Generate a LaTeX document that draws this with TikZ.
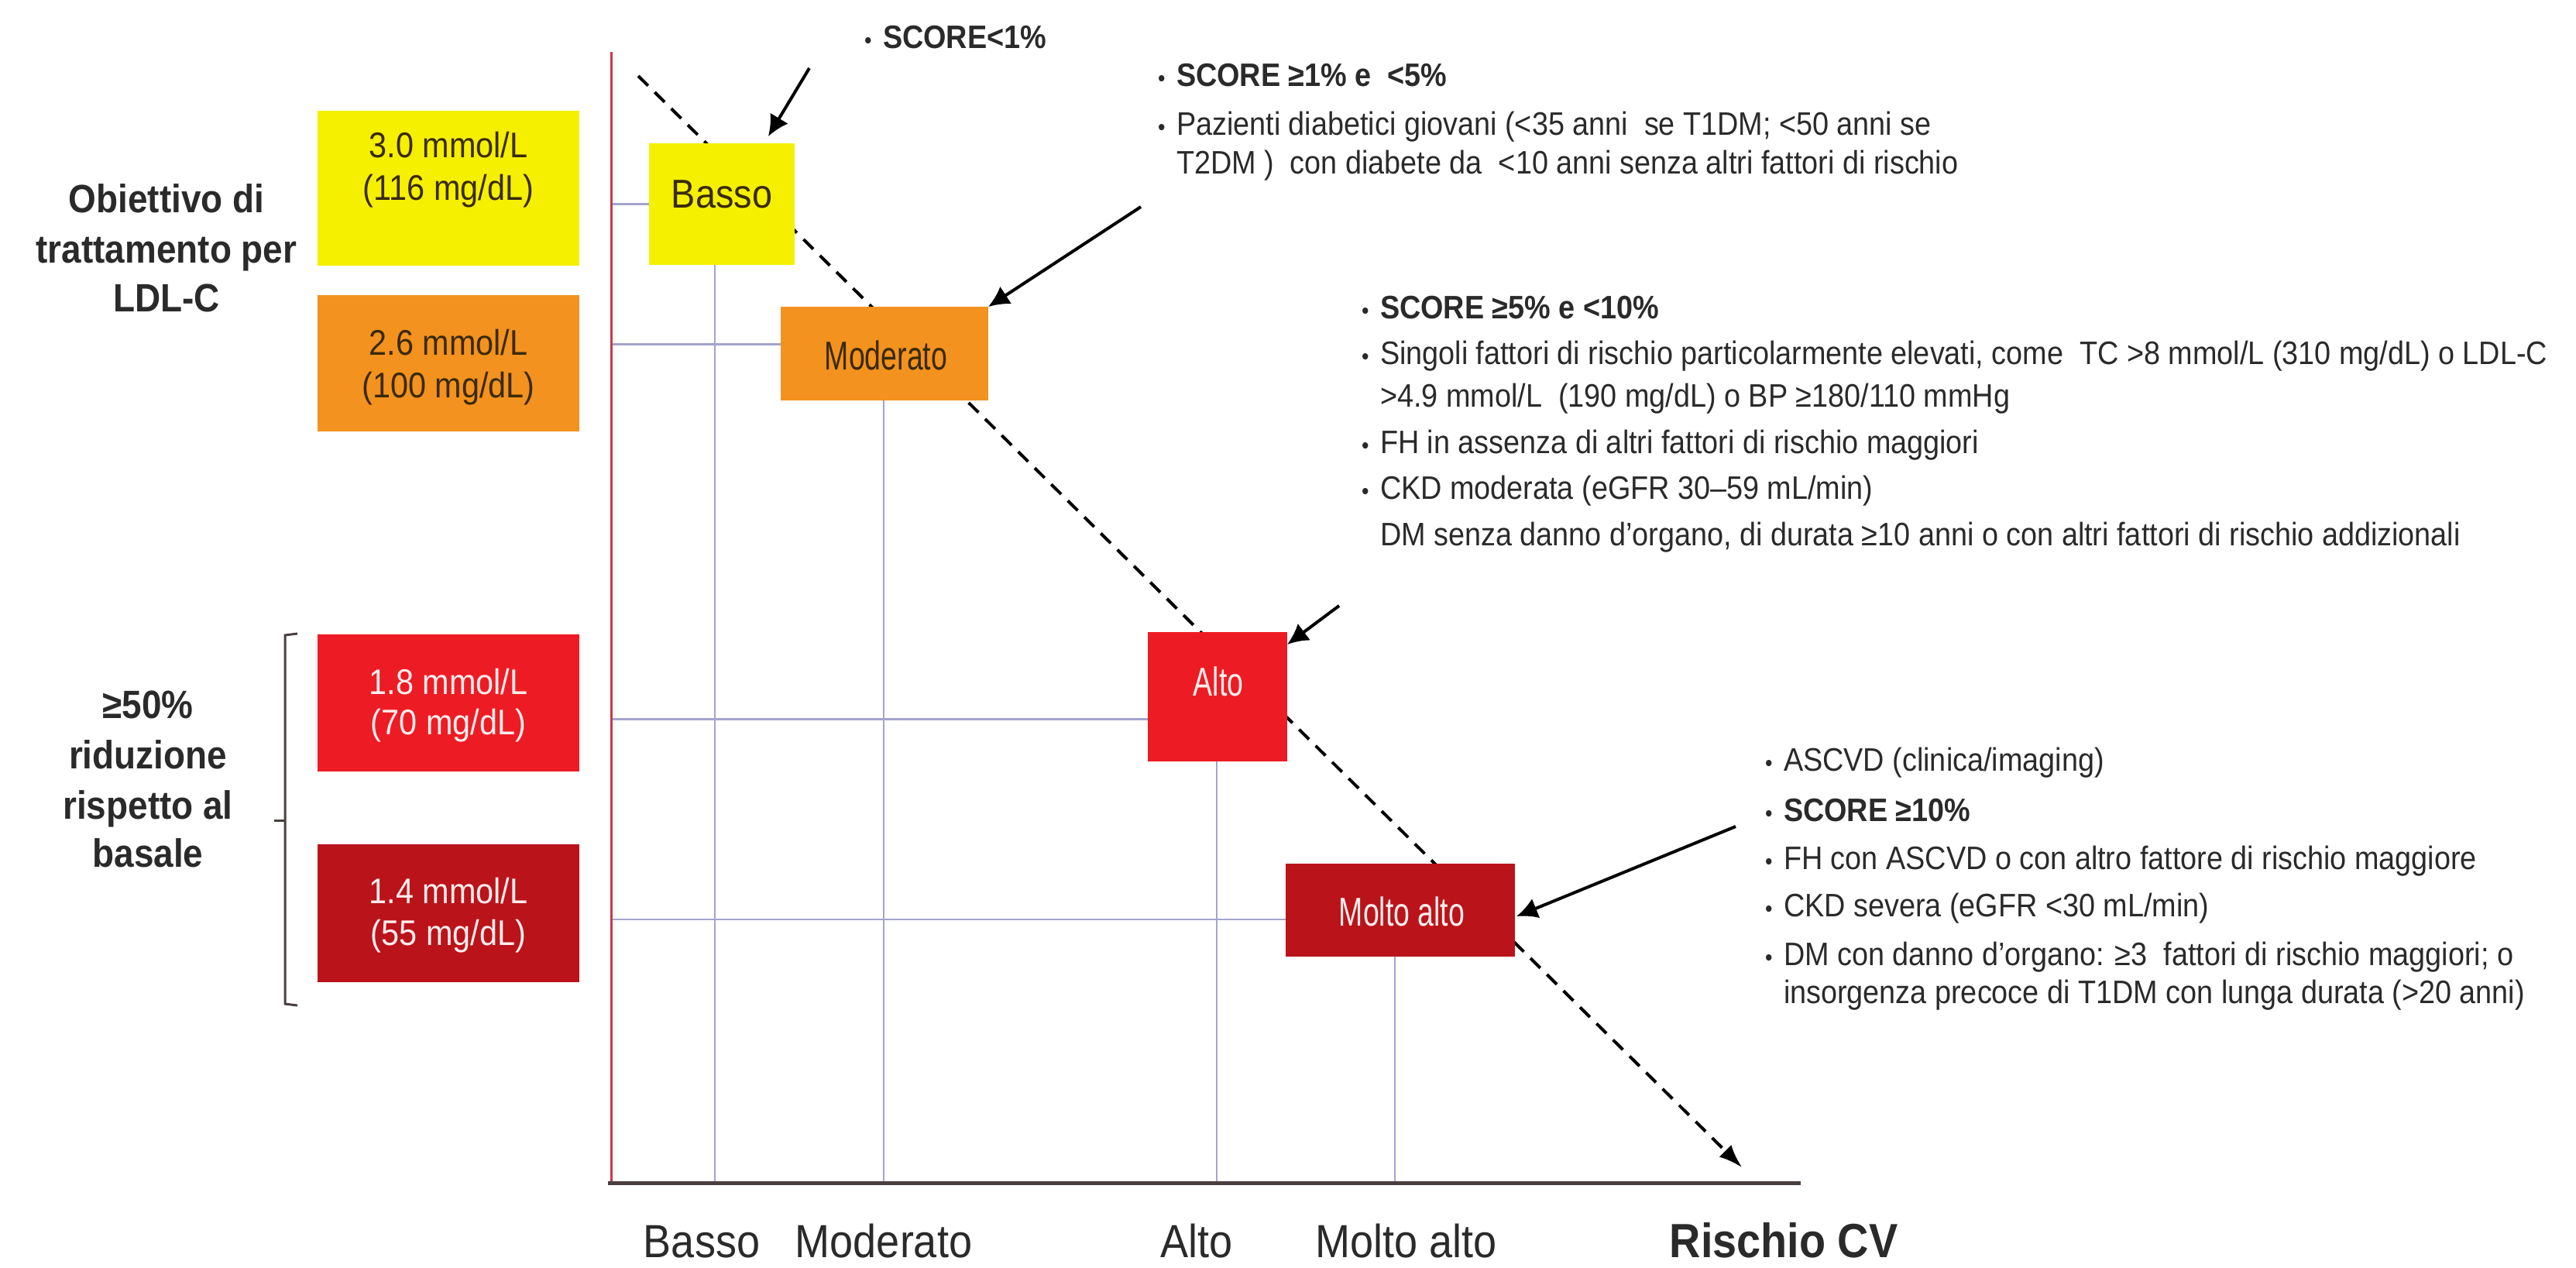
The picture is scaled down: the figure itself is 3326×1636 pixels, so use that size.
\documentclass[tikz,border=0pt]{standalone}
\usepackage{fontspec}
\setmainfont{Liberation Sans}[FakeStretch=0.9]
\newfontfamily\condfont{Liberation Sans}[FakeStretch=0.72]
\usetikzlibrary{arrows.meta,calc}
\definecolor{yel}{HTML}{F5F000}
\definecolor{ora}{HTML}{F3921E}
\definecolor{redb}{HTML}{ED1C24}
\definecolor{dred}{HTML}{BA1319}
\definecolor{gridc}{HTML}{A4A4CE}
\definecolor{axred}{HTML}{C8384A}
\definecolor{axdark}{HTML}{4A3E3E}
\definecolor{txtc}{HTML}{2A2A2A}
\definecolor{boxtxt}{HTML}{3A2A0A}
\definecolor{pinkw}{HTML}{FFEDED}
\newcommand{\mybul}{\makebox[24pt][l]{\fontsize{30}{30}\selectfont •}}
\begin{document}
\begin{tikzpicture}[x=1pt,y=-1pt,
  every node/.style={inner sep=0pt,outer sep=0pt},
  gridl/.style={draw=gridc,line width=2.5pt},
  arr/.style={draw=black,line width=4pt,-{Latex[length=27pt,width=27pt]}},
  dsh/.style={draw=black,line width=4pt,dash pattern=on 18pt off 12pt,-{Latex[length=30pt,width=22pt]}},
  lefttxt/.style={font=\fontsize{51}{65}\selectfont\bfseries,text=txtc,anchor=base},
  boxlbl/.style={font=\fontsize{46}{55}\selectfont,anchor=base},
  risklbl/.style={font=\fontsize{52}{60}\selectfont,anchor=base},
  condlbl/.style={font=\condfont\fontsize{52}{60}\selectfont,anchor=base},
  axl/.style={font=\fontsize{60}{72}\selectfont,text=txtc,anchor=base},
  rl/.style={font=\fontsize{42}{50}\selectfont,text=txtc,anchor=base west},
]
\useasboundingbox (0,0) rectangle (3326,1636);
\fill[white] (0,0) rectangle (3326,1636);

% axes
\coordinate (ytop) at (789,67);
\coordinate (O) at (789,1527);
\coordinate (xstart) at (785,1527);
\coordinate (xend) at (2325,1527);

% dashed trend line
\coordinate (ds) at (824,98);
\coordinate (de) at (2249,1507);
\draw[dsh] (ds) -- (de);

% target boxes
\node[fill=yel,minimum width=338pt,minimum height=200pt] (bY) at (579,243) {};
\node[fill=ora,minimum width=338pt,minimum height=176pt] (bO) at (579,469) {};
\node[fill=redb,minimum width=338pt,minimum height=177pt] (bR) at (579,907.5) {};
\node[fill=dred,minimum width=338pt,minimum height=178pt] (bD) at (579,1179) {};

% risk boxes
\node[fill=yel,minimum width=188pt,minimum height=157pt] (rB) at (932,263.5) {};
\node[fill=ora,minimum width=268pt,minimum height=121pt] (rM) at (1142,456.5) {};
\node[fill=redb,minimum width=180pt,minimum height=167pt] (rA) at (1572,899.5) {};
\node[fill=dred,minimum width=296pt,minimum height=120pt] (rV) at (1808,1175) {};

% grid lines
\coordinate (hB) at (rB.west);
\coordinate (hM) at ($(rM.west)+(0,-12)$);
\coordinate (hA) at ($(rA.west)+(0,29)$);
\coordinate (hV) at ($(rV.west)+(0,12)$);
\draw[gridl] (hB -| O) -- (hB);
\draw[gridl] (hM -| O) -- (hM);
\draw[gridl] (hA -| O) -- (hA);
\draw[gridl] (hV -| O) -- (hV);
\coordinate (gB) at ([xshift=-9pt]rB.south);
\coordinate (gM) at ([xshift=-1pt]rM.south);
\coordinate (gA) at ([xshift=-1pt]rA.south);
\coordinate (gV) at ([xshift=-7pt]rV.south);
\draw[gridl] (gB) -- (gB |- O);
\draw[gridl] (gM) -- (gM |- O);
\draw[gridl] (gA) -- (gA |- O);
\draw[gridl] (gV) -- (gV |- O);

\draw[draw=axred,line width=3pt] (ytop) -- (O);
\draw[draw=axdark,line width=5pt] (xstart) -- (xend);

% arrows
\coordinate (a1s) at (1045,88);
\coordinate (a2s) at (1473,267);
\coordinate (a3s) at (1729,782);
\coordinate (a4s) at (2241,1067);
\draw[arr] (a1s) -- ([xshift=-34pt,yshift=9pt]rB.north east);
\draw[arr] (a2s) -- (rM.north east);
\draw[arr] (a3s) -- ([yshift=-16pt]rA.north east);
\draw[arr] (a4s) -- ([xshift=2pt,yshift=-8pt]rV.east);

% brace
\coordinate (brTa) at (384,818);
\coordinate (brTb) at (368,820);
\coordinate (brBb) at (368,1296);
\coordinate (brBa) at (384,1298);
\coordinate (brMa) at (368,1059);
\coordinate (brMb) at (354,1059);
\draw[draw=axdark,line width=3pt] (brTa) -- (brTb) -- (brBb) -- (brBa);
\draw[draw=axdark,line width=3pt] (brMa) -- (brMb);

% box texts
\node[boxlbl,text=boxtxt] (tY1) at (579,203) {3.0 mmol/L};
\node[boxlbl,text=boxtxt] (tY2) at (579,258) {(116 mg/dL)};
\node[boxlbl,text=boxtxt] (tO1) at (579,458) {2.6 mmol/L};
\node[boxlbl,text=boxtxt] (tO2) at (579,513) {(100 mg/dL)};
\node[boxlbl,text=pinkw] (tR1) at (579,896) {1.8 mmol/L};
\node[boxlbl,text=pinkw] (tR2) at (579,948) {(70 mg/dL)};
\node[boxlbl,text=pinkw] (tD1) at (579,1166) {1.4 mmol/L};
\node[boxlbl,text=pinkw] (tD2) at (579,1220) {(55 mg/dL)};

\node[risklbl,text=boxtxt] (lB) at (932,268) {Basso};
\node[condlbl,text=boxtxt] (lM) at (1144,477) {Moderato};
\node[condlbl,text=pinkw] (lA) at (1573,898) {Alto};
\node[condlbl,text=pinkw] (lV) at (1810,1195) {Molto alto};

% left texts
\node[lefttxt] (L1) at (215,274) {Obiettivo di};
\node[lefttxt] (L2) at (215,339) {trattamento per};
\node[lefttxt] (L3) at (215,402) {LDL-C};
\node[lefttxt] (L4) at (191,927) {≥50\%};
\node[lefttxt] (L5) at (191,992) {riduzione};
\node[lefttxt] (L6) at (191,1057) {rispetto al};
\node[lefttxt] (L7) at (191,1119) {basale};

% axis labels
\node[axl] (xB) at (906,1623) {Basso};
\node[axl] (xM) at (1141,1623) {Moderato};
\node[axl] (xA) at (1545,1623) {Alto};
\node[axl] (xV) at (1816,1623) {Molto alto};
\node[axl,font=\fontsize{62}{72}\selectfont\bfseries] (xR) at (2303,1623) {Rischio CV};

% top block
\node[rl] (s1) at (1116,62) {\mybul\textbf{SCORE<1\%}};
\node[rl] (s2) at (1495,111) {\mybul\textbf{SCORE ≥1\% e \ <5\%}};
\node[rl] (s3) at (1495,174) {\mybul Pazienti diabetici giovani (<35 anni \ se T1DM; <50 anni se};
\node[rl] (s4) at (1519,224) {T2DM ) \ con diabete da \ <10 anni senza altri fattori di rischio};

% middle block
\node[rl] (m1) at (1758,411) {\mybul\textbf{SCORE ≥5\% e <10\%}};
\node[rl] (m2) at (1758,470) {\mybul Singoli fattori di rischio particolarmente elevati, come \ TC >8 mmol/L (310 mg/dL) o LDL-C};
\node[rl] (m3) at (1782,525) {>4.9 mmol/L \ (190 mg/dL) o BP ≥180/110 mmHg};
\node[rl] (m4) at (1758,585) {\mybul FH in assenza di altri fattori di rischio maggiori};
\node[rl] (m5) at (1758,644) {\mybul CKD moderata (eGFR 30–59 mL/min)};
\node[rl] (m6) at (1782,704) {DM senza danno d’organo, di durata ≥10 anni o con altri fattori di rischio addizionali};

% bottom block
\node[rl] (v1) at (2279,995) {\mybul ASCVD (clinica/imaging)};
\node[rl] (v2) at (2279,1060) {\mybul\textbf{SCORE ≥10\%}};
\node[rl] (v3) at (2279,1122) {\mybul FH con ASCVD o con altro fattore di rischio maggiore};
\node[rl] (v4) at (2279,1183) {\mybul CKD severa (eGFR <30 mL/min)};
\node[rl] (v5) at (2279,1246) {\mybul DM con danno d’organo: ≥3 \ fattori di rischio maggiori; o};
\node[rl] (v6) at (2303,1295) {insorgenza precoce di T1DM con lunga durata (>20 anni)};
\end{tikzpicture}
\end{document}
